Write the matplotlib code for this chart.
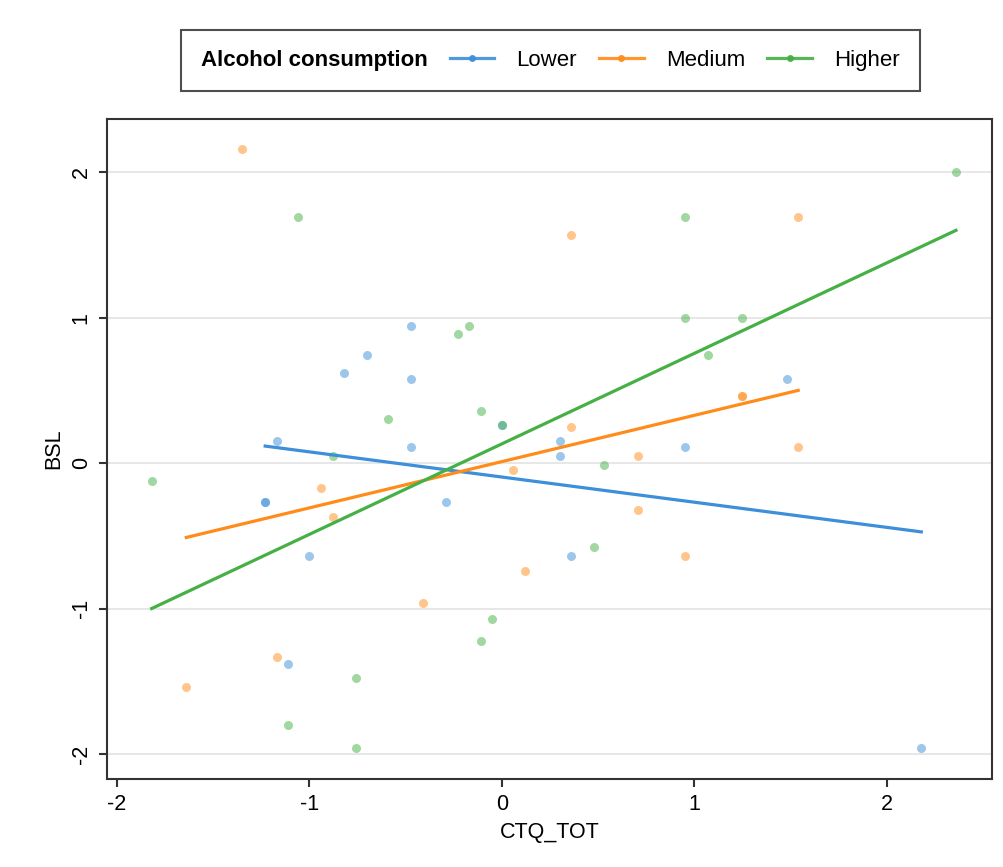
import numpy as np
import matplotlib
matplotlib.use("Agg")
import matplotlib.pyplot as plt
from matplotlib.lines import Line2D
from matplotlib.offsetbox import HPacker

plt.rcParams["font.family"] = ["Liberation Sans", "DejaVu Sans"]
plt.rcParams["axes.unicode_minus"] = False

# Scatter points (CTQ_TOT, BSL)
lower_x = [-1.17, -1.23, -1.23, -1.00, -1.11, -0.82, -0.70, -0.47, -0.47, -0.47,
           -0.29, 0.00, 0.30, 0.30, 0.36, 0.95, 1.48, 2.18]
lower_y = [0.15, -0.27, -0.27, -0.64, -1.38, 0.62, 0.74, 0.94, 0.58, 0.11,
           -0.27, 0.26, 0.15, 0.05, -0.64, 0.11, 0.58, -1.96]

medium_x = [-1.35, -1.64, -1.17, -0.94, -0.88, -0.41, 0.06, 0.12, 0.36, 0.36,
            0.71, 0.71, 0.95, 1.25, 1.25, 1.54, 1.54]
medium_y = [2.16, -1.54, -1.33, -0.17, -0.37, -0.96, -0.05, -0.74, 1.57, 0.25,
            0.05, -0.32, -0.64, 0.46, 0.46, 1.69, 0.11]

higher_x = [-1.82, -1.06, -1.11, -0.88, -0.76, -0.76, -0.59, -0.23, -0.17, -0.11,
            0.00, -0.05, -0.11, 0.48, 0.53, 0.95, 0.95, 1.25, 1.07, 2.36]
higher_y = [-0.12, 1.69, -1.80, 0.05, -1.48, -1.96, 0.30, 0.89, 0.94, 0.36,
            0.26, -1.07, -1.22, -0.58, -0.01, 1.69, 1.00, 1.00, 0.74, 2.00]

# fitted lines (intercept, slope)
lower_fit = (-0.096, -0.173)
medium_fit = (0.01, 0.318)
higher_fit = (0.132, 0.622)

groups = ["Lower", "Medium", "Higher"]
colors = ["#3d8fd9", "#ff8c1a", "#45b045"]

fig = plt.figure(figsize=(10.04, 8.67), dpi=100)
ax = fig.add_axes([0.1066, 0.1015, 0.881, 0.761])

series = [
    (lower_x, lower_y, lower_fit),
    (medium_x, medium_y, medium_fit),
    (higher_x, higher_y, higher_fit),
]

for (xs, ys, (b0, b1)), color in zip(series, colors):
    xs = np.array(xs)
    ys = np.array(ys)
    ax.scatter(xs, ys, s=42, color=color, alpha=0.5, linewidths=0, zorder=3)
    xline = np.linspace(xs.min(), xs.max(), 50)
    ax.plot(xline, b0 + b1 * xline, color=color, linewidth=2.3, zorder=4)

ax.set_xlim(-2.052, 2.545)
ax.set_ylim(-2.172, 2.364)
ax.set_xticks([-2, -1, 0, 1, 2])
ax.set_yticks([-2, -1, 0, 1, 2])
ax.set_yticklabels(["-2", "-1", "0", "1", "2"], rotation=90, va="center")
ax.yaxis.grid(True, color="#e3e3e3", linewidth=1.2)
ax.set_axisbelow(True)

for sp in ax.spines.values():
    sp.set_color("#333333")
    sp.set_linewidth(1.5)
ax.tick_params(direction="out", length=6, width=1.5, color="#333333",
               labelsize=15.5, pad=5)
ax.set_xlabel("CTQ_TOT", fontsize=15.5, labelpad=5)
ax.set_ylabel("BSL", fontsize=15.5, labelpad=5)

# legend with the title placed inline to the left of the entries
handles = [Line2D([], [], color=c, linewidth=2.3, marker="o", markersize=4,
                  markerfacecolor=c, alpha=0.9) for c in colors]
leg = fig.legend(handles, groups, ncol=3, loc="center",
                 bbox_to_anchor=(0.548, 0.930), fontsize=16,
                 title="Alcohol consumption",
                 title_fontproperties={"weight": "bold", "size": 16},
                 frameon=True, fancybox=False, edgecolor="#222222",
                 handlelength=2.0, handletextpad=1.0, columnspacing=1.0,
                 borderpad=0.9)
leg.get_frame().set_linewidth(1.5)
fs = leg._fontsize
box = HPacker(pad=leg.borderpad * fs, sep=1.0 * fs, align="center",
              children=[leg._legend_title_box, leg._legend_handle_box])
box.set_figure(fig)
box.set_offset(leg._findoffset)
leg._legend_box = box

fig.savefig("out.png", dpi=100)
